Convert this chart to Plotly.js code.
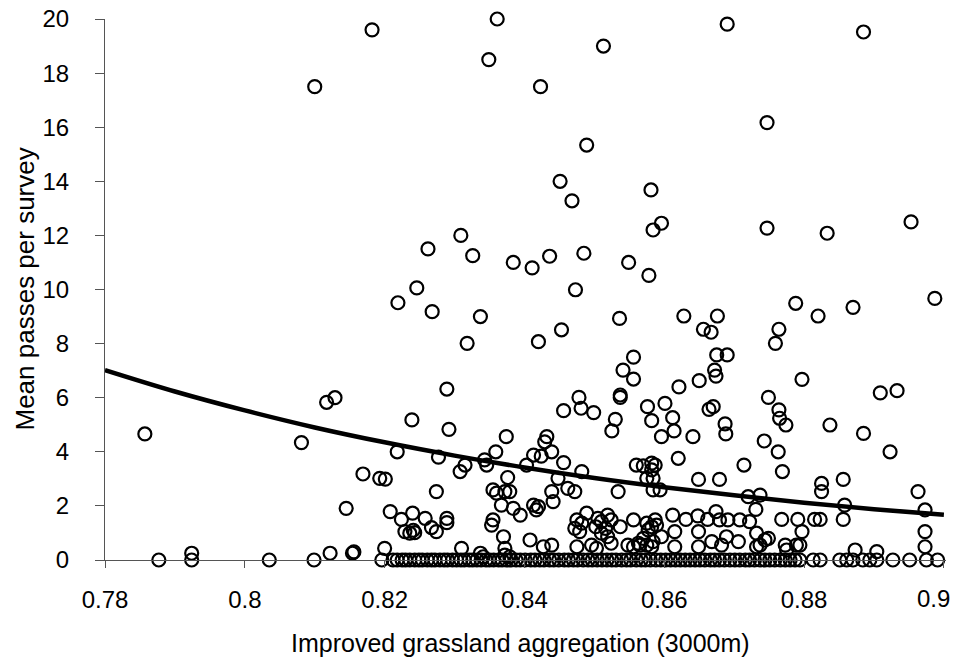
<!DOCTYPE html>
<html>
<head>
<meta charset="utf-8">
<script src="https://cdn.plot.ly/plotly-3.0.1.min.js"></script>
<style>html,body{margin:0;padding:0;background:#fff;}#chart{width:959px;height:659px;}</style>
</head>
<body>
<div id="chart"></div>
<script>
// Survey points: [aggregation, mean passes]
const upperPoints = [
[0.7857,4.66],[0.8081,4.34],[0.8117,5.83],[0.8129,6.00],[0.8100,17.50],[0.8182,19.60],[0.8361,20.00],[0.8349,18.50],
[0.8513,19.00],[0.8423,17.50],[0.8489,15.34],[0.8451,14.00],[0.8468,13.28],[0.8581,13.68],[0.8309,12.00],[0.8262,11.50],
[0.8326,11.25],[0.8384,11.00],[0.8411,10.80],[0.8436,11.23],[0.8485,11.34],[0.8473,9.99],[0.8549,11.00],[0.8596,12.45],
[0.8584,12.20],[0.8578,10.52],[0.8246,10.06],[0.8219,9.51],[0.8690,19.81],[0.8885,19.52],[0.8747,16.17],[0.8747,12.27],
[0.8833,12.08],[0.8953,12.50],[0.8788,9.49],[0.8987,9.67],[0.8268,9.18],[0.8337,9.00],[0.8318,8.01],[0.8289,6.32],
[0.8239,5.18],[0.8292,4.83],[0.8374,4.56],[0.8432,4.56],[0.8420,8.07],[0.8453,8.51],[0.8536,8.93],[0.8556,7.50],
[0.8541,7.02],[0.8556,6.69],[0.8537,6.10],[0.8537,6.01],[0.8478,6.01],[0.8456,5.52],[0.8481,5.61],[0.8499,5.45],
[0.8530,5.20],[0.8525,4.77],[0.8576,5.67],[0.8582,5.15],[0.8601,5.79],[0.8612,5.26],[0.8614,4.77],[0.8596,4.56],
[0.8641,4.56],[0.8621,6.40],[0.8650,6.63],[0.8628,9.02],[0.8676,9.02],[0.8656,8.53],[0.8667,8.42],[0.8675,7.58],
[0.8690,7.58],[0.8672,7.02],[0.8674,6.80],[0.8664,5.57],[0.8670,5.67],[0.8687,5.03],[0.8688,4.66],[0.8743,4.40],
[0.8749,6.01],[0.8764,5.55],[0.8765,5.24],[0.8774,4.99],[0.8759,8.01],[0.8764,8.53],[0.8797,6.68],[0.8820,9.02],
[0.8870,9.34],[0.8837,4.99],[0.8885,4.68],[0.8909,6.18],[0.8933,6.26]
];
const middlePoints = [
[0.8169,3.18],[0.8145,1.91],[0.8218,4.00],[0.8277,3.80],[0.8315,3.51],[0.8308,3.27],[0.8359,4.00],[0.8343,3.70],
[0.8346,3.51],[0.8193,3.02],[0.8201,2.99],[0.8274,2.53],[0.8208,1.79],[0.8224,1.50],[0.8240,1.73],[0.8258,1.54],
[0.8289,1.54],[0.8289,1.38],[0.8229,1.05],[0.8236,0.99],[0.8241,1.10],[0.8243,1.01],[0.8267,1.20],[0.8274,1.05],
[0.8355,2.59],[0.8360,2.47],[0.8367,2.03],[0.8355,1.48],[0.8353,1.29],[0.8376,3.05],[0.8429,4.37],[0.8439,4.00],
[0.8413,3.88],[0.8424,3.84],[0.8403,3.51],[0.8456,3.60],[0.8482,3.27],[0.8560,3.51],[0.8570,3.48],[0.8582,3.58],
[0.8582,3.33],[0.8587,3.51],[0.8575,3.02],[0.8584,3.02],[0.8584,2.59],[0.8372,2.53],[0.8379,2.53],[0.8448,3.02],
[0.8439,2.53],[0.8462,2.65],[0.8472,2.53],[0.8534,2.53],[0.8441,2.16],[0.8384,1.91],[0.8394,1.66],[0.8413,2.03],
[0.8420,1.97],[0.8417,1.85],[0.8489,1.73],[0.8475,1.48],[0.8482,1.36],[0.8472,1.17],[0.8479,1.05],[0.8505,1.54],
[0.8510,1.42],[0.8502,1.23],[0.8519,1.66],[0.8524,1.48],[0.8516,1.17],[0.8510,0.99],[0.8537,1.23],[0.8556,1.48],
[0.8575,1.36],[0.8582,1.23],[0.8577,1.11],[0.8763,4.00],[0.8620,3.76],[0.8714,3.51],[0.8769,3.27],[0.8649,2.98],
[0.8679,2.98],[0.8594,2.59],[0.8720,2.34],[0.8737,2.40],[0.8731,1.87],[0.8612,1.66],[0.8631,1.50],[0.8648,1.63],
[0.8662,1.50],[0.8674,1.79],[0.8679,1.48],[0.8691,1.48],[0.8708,1.48],[0.8722,1.42],[0.8587,1.48],[0.8589,1.29],
[0.8768,1.50],[0.8791,1.50],[0.8797,1.05],[0.8615,1.05],[0.8649,1.05],[0.8732,0.99],[0.8923,4.00],[0.8856,2.98],
[0.8825,2.83],[0.8825,2.53],[0.8963,2.53],[0.8858,2.03],[0.8973,1.85],[0.8815,1.50],[0.8823,1.50],[0.8856,1.50],
[0.8973,1.05]
];
const lowPoints = [
[0.8370,0.86],[0.8519,0.86],[0.8524,0.62],[0.8570,0.80],[0.8563,0.62],[0.8575,0.55],[0.8584,0.68],[0.8582,0.49],
[0.8408,0.74],[0.8439,0.55],[0.8427,0.49],[0.8475,0.49],[0.8496,0.55],[0.8503,0.43],[0.8548,0.55],[0.8556,0.49],
[0.8565,0.55],[0.8379,0.12],[0.8372,0.18],[0.8596,0.86],[0.8615,0.49],[0.8668,0.68],[0.8649,0.49],[0.8689,0.86],
[0.8706,0.68],[0.8682,0.55],[0.8744,0.74],[0.8749,0.80],[0.8737,0.55],[0.8732,0.49],[0.8773,0.55],[0.8789,0.55],
[0.8775,0.37],[0.8794,0.55],[0.8973,0.49],[0.8873,0.37],[0.8904,0.31],[0.7924,0.25],[0.8122,0.25],[0.8154,0.25],
[0.8156,0.30],[0.8200,0.43],[0.8310,0.43],[0.8337,0.25],[0.8341,0.12],[0.8372,0.43]
];
const zeroPoints = [
[0.7877,0],[0.7924,0],[0.8035,0],[0.8099,0],[0.8196,0],
[0.8212,0],[0.8218,0],[0.8225,0],[0.8230,0],[0.8236,0],[0.8243,0],[0.8249,0],[0.8254,0],[0.8261,0],[0.8267,0],
[0.8272,0],[0.8279,0],[0.8285,0],[0.8290,0],[0.8297,0],[0.8303,0],[0.8309,0],[0.8314,0],[0.8321,0],[0.8326,0],
[0.8332,0],[0.8338,0],[0.8345,0],[0.8350,0],[0.8356,0],[0.8363,0],[0.8368,0],[0.8374,0],
[0.8381,0],[0.8388,0],[0.8394,0],[0.8401,0],[0.8409,0],[0.8415,0],[0.8422,0],[0.8428,0],[0.8436,0],[0.8442,0],
[0.8449,0],[0.8457,0],[0.8463,0],[0.8470,0],[0.8476,0],[0.8484,0],[0.8491,0],[0.8497,0],[0.8504,0],[0.8511,0],
[0.8518,0],[0.8525,0],[0.8531,0],[0.8539,0],[0.8546,0],[0.8552,0],[0.8560,0],[0.8567,0],[0.8573,0],[0.8580,0],[0.8588,0],
[0.8595,0],[0.8602,0],[0.8609,0],[0.8616,0],[0.8623,0],[0.8630,0],[0.8637,0],[0.8644,0],[0.8651,0],[0.8658,0],
[0.8666,0],[0.8672,0],[0.8679,0],[0.8686,0],[0.8694,0],[0.8701,0],[0.8708,0],[0.8716,0],[0.8722,0],[0.8729,0],
[0.8737,0],[0.8744,0],[0.8751,0],[0.8758,0],[0.8766,0],[0.8773,0],[0.8780,0],[0.8787,0],
[0.8794,0],[0.8813,0],[0.8823,0],[0.8851,0],[0.8861,0],[0.8870,0],[0.8884,0],[0.8894,0],[0.8904,0],[0.8927,0],
[0.8951,0],[0.8975,0],[0.8991,0]
];
// Fitted trend line
const trendX = [0.78,0.79,0.80,0.81,0.82,0.83,0.84,0.85,0.86,0.87,0.88,0.89,0.90];
const trendY = [7.02,6.23,5.53,4.90,4.35,3.86,3.42,3.03,2.69,2.39,2.12,1.88,1.67];
const xTicks = [0.78,0.80,0.82,0.84,0.86,0.88,0.90];
const xTickLabels = ['0.78','0.8','0.82','0.84','0.86','0.88',''];
const lastXTick = 0.90, lastXLabel = '0.9';   // drawn nudged inwards, as in the original
const yTicks = [0,2,4,6,8,10,12,14,16,18,20];
const xTitle = 'Improved grassland aggregation (3000m)';
const yTitle = 'Mean\u00a0passes\u00a0per\u00a0survey';

const allPoints = zeroPoints.concat(lowPoints, middlePoints, upperPoints);
const FONT = 'Arial, Liberation Sans, Helvetica, sans-serif';

const traces = [
  {
    type: 'scatter', mode: 'markers', name: 'surveys',
    x: allPoints.map(p => p[0]), y: allPoints.map(p => p[1]),
    cliponaxis: false,
    marker: {symbol: 'circle-open', size: 13, color: '#000', line: {color: '#000', width: 2.2}},
    hoverinfo: 'x+y'
  },
  {
    type: 'scatter', mode: 'lines', name: 'trend',
    x: trendX, y: trendY,
    line: {color: '#000', width: 4.5, shape: 'spline'},
    hoverinfo: 'skip'
  }
];

const layout = {
  width: 959, height: 659,
  margin: {l: 105, r: 13, t: 19, b: 99, pad: 0},
  paper_bgcolor: '#fff', plot_bgcolor: '#fff',
  showlegend: false,
  font: {family: FONT, color: '#000'},
  xaxis: {
    range: [0.78, 0.9003], tickvals: xTicks, ticktext: xTickLabels,
    showline: true, linecolor: '#555', linewidth: 1,
    ticks: 'outside', ticklen: 7, tickcolor: '#555', tickwidth: 1,
    showgrid: false, zeroline: false,
    tickfont: {family: FONT, size: 24, color: '#000'},
    ticklabelstandoff: 11
  },
  yaxis: {
    range: [0, 20], tickvals: yTicks,
    showline: true, linecolor: '#555', linewidth: 1,
    ticks: 'outside', ticklen: 9, tickcolor: '#555', tickwidth: 1,
    showgrid: false, zeroline: false,
    tickfont: {family: FONT, size: 24, color: '#000'},
    ticklabelstandoff: 21
  },
  annotations: [
    {text: lastXLabel, xref: 'x', yref: 'paper', x: lastXTick, y: -0.0720,
     xanchor: 'center', yanchor: 'middle', xshift: -10, showarrow: false,
     font: {family: FONT, size: 24, color: '#000'}},
    {text: xTitle, xref: 'paper', yref: 'paper', x: 0.4946, y: -0.1534,
     xanchor: 'center', yanchor: 'middle', showarrow: false,
     font: {family: FONT, size: 25, color: '#000'}},
    {text: yTitle, xref: 'paper', yref: 'paper', x: -0.0963, y: 0.5, textangle: -90,
     xanchor: 'center', yanchor: 'middle', showarrow: false,
     font: {family: FONT, size: 26, color: '#000'}}
  ]
};

Plotly.newPlot('chart', traces, layout, {displayModeBar: false, staticPlot: true});
</script>
</body>
</html>
